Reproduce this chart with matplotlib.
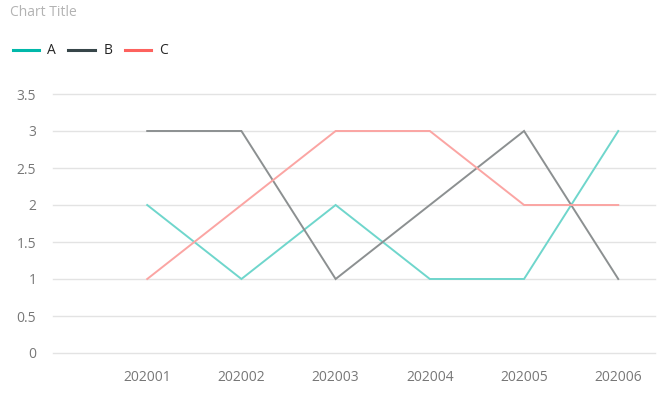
import matplotlib
matplotlib.use('Agg')
import matplotlib.pyplot as plt
from matplotlib.lines import Line2D

periods = ['202001', '202002', '202003', '202004', '202005', '202006']
a_vals = [2, 1, 2, 1, 1, 3]
b_vals = [3, 3, 1, 2, 3, 1]
c_vals = [1, 2, 3, 3, 2, 2]

series_names = ['A', 'B', 'C']
legend_colors = ['#01B8AA', '#374649', '#FD625E']
line_colors = ['#6fd6cc', '#8c9091', '#fba5a3']

plt.rcParams['font.family'] = ['Open Sans', 'DejaVu Sans']

fig = plt.figure(figsize=(6.58, 3.96), dpi=100)
ax = fig.add_axes([53 / 658, 1 - 353 / 396, 602 / 658, (353 - 94) / 396])

x = list(range(1, len(periods) + 1))
for vals, col in zip([a_vals, b_vals, c_vals], line_colors):
    ax.plot(x, vals, color=col, linewidth=1.4, solid_joinstyle='miter')

ax.set_xlim(0, 6.39)
ax.set_ylim(0, 3.5)
ax.set_yticks([0, 0.5, 1, 1.5, 2, 2.5, 3, 3.5])
ax.set_yticklabels(['0', '0.5', '1', '1.5', '2', '2.5', '3', '3.5'])
ax.set_xticks(x)
ax.set_xticklabels(periods)
ax.tick_params(axis='both', length=0, labelsize=10, colors='#777777')
ax.tick_params(axis='y', pad=12)
ax.tick_params(axis='x', pad=12)
ax.grid(axis='y', color='#e3e3e3', linewidth=1)
for gl in ax.get_ygridlines():
    gl.set_clip_on(False)
ax.set_axisbelow(True)
for s in ax.spines.values():
    s.set_visible(False)

fig.text(10 / 658, 1 - 13 / 396, 'Chart Title', fontsize=10, color='#b3b3b3', va='center', ha='left')

handles = [Line2D([0], [0], color=c, linewidth=2.2) for c in legend_colors]
fig.legend(handles, series_names, loc='center left', bbox_to_anchor=(0.0, 1 - 51 / 396),
           ncol=3, frameon=False, fontsize=10, handlelength=1.9, handletextpad=0.6,
           columnspacing=0.9, labelcolor='#252525')

plt.savefig('out.png')
